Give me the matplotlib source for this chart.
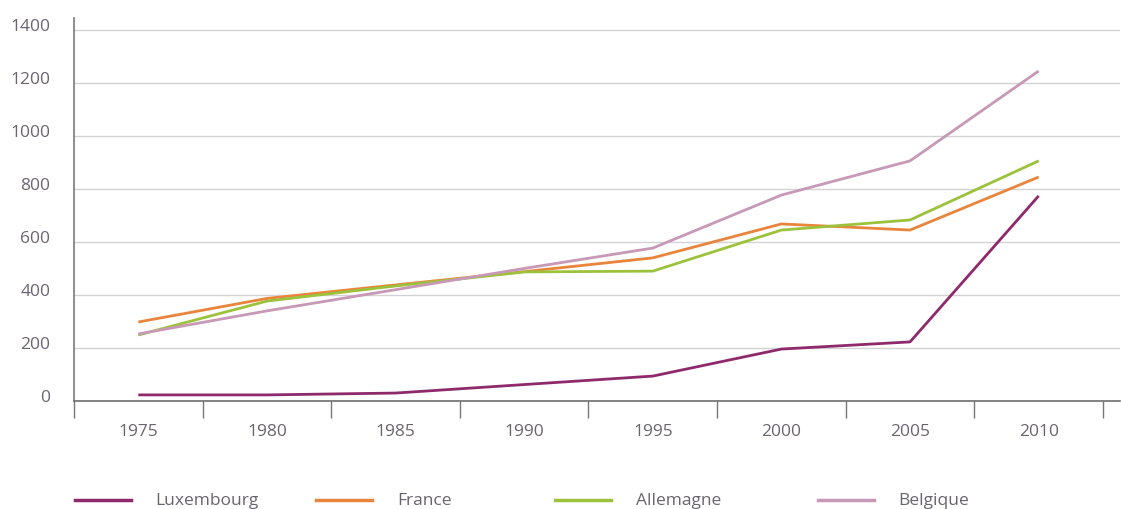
import matplotlib.pyplot as plt
from matplotlib.lines import Line2D

annees = ["1975", "1980", "1985", "1990", "1995", "2000", "2005", "2010"]
luxembourg = [23, 23, 30, 62, 94, 196, 223, 774]
france = [298, 387, 438, 488, 540, 668, 645, 845]
allemagne = [249, 377, 434, 487, 490, 645, 683, 906]
belgique = [253, 340, 420, 500, 577, 777, 906, 1245]

noms = ["Luxembourg", "France", "Allemagne", "Belgique"]
couleurs = ["#8e2a6c", "#e9843c", "#9cc23c", "#c898b7"]
gris = "#6a6470"

plt.rcParams["font.family"] = ["Open Sans", "DejaVu Sans"]

fig = plt.figure(figsize=(11.21, 5.10), dpi=100)
ax = fig.add_axes([74 / 1121, 1 - 402 / 510, 1046 / 1121, 383 / 510])

x = list(range(len(annees)))
for serie, c in zip([luxembourg, france, allemagne, belgique], couleurs):
    ax.plot(x, serie, color=c, lw=2.0, solid_capstyle="butt")

ax.set_ylim(0, 1445)
ax.set_xlim(-0.5, len(annees) - 0.5 + 17 / 128.6)
ax.set_yticks(range(0, 1401, 200))
ax.set_yticklabels([str(v) for v in range(0, 1401, 200)], color=gris, fontsize=12.5, va="baseline")
ax.tick_params(axis="y", length=0, pad=17)
ax.yaxis.grid(True, color="#d2d2d2", lw=1)
ax.set_axisbelow(True)

# ticks aux frontières des catégories, libellés au centre
ax.set_xticks([i - 0.5 for i in range(len(annees) + 1)])
ax.set_xticklabels([])
ax.set_xticks(x, minor=True)
ax.set_xticklabels(annees, minor=True, color=gris, fontsize=12.5)
ax.tick_params(axis="x", which="major", length=12.5, width=1, color="#777777", direction="out")
ax.tick_params(axis="x", which="minor", length=0, pad=16)

for s in ["top", "right"]:
    ax.spines[s].set_visible(False)
ax.spines["left"].set_color("#7a7a7a")
ax.spines["left"].set_linewidth(1.2)
ax.spines["bottom"].set_color("#6e6e6e")
ax.spines["bottom"].set_linewidth(1.2)

# légende
pos = [(75, 155), (316, 397), (555, 636), (818, 898)]
for (xl, xt), nom, c in zip(pos, noms, couleurs):
    y = 1 - 501 / 510
    fig.add_artist(Line2D([xl / 1121, (xl + 56) / 1121], [y, y], color=c, lw=2.5,
                          transform=fig.transFigure))
    fig.text(xt / 1121, y, nom, color=gris, fontsize=12.5, va="center", ha="left")

plt.savefig("out.png", dpi=100)
